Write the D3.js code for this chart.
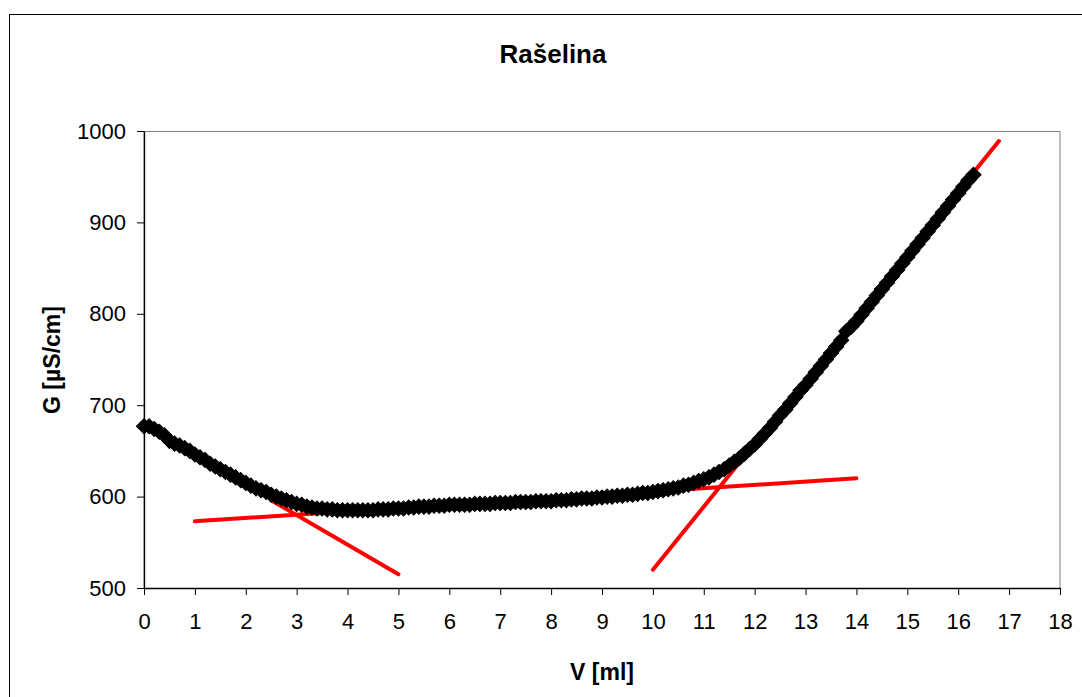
<!DOCTYPE html>
<html>
<head>
<meta charset="utf-8">
<script src="https://cdn.jsdelivr.net/npm/d3@7"></script>
<style>
  body { margin: 0; background: #fff; }
  svg { display: block; font-family: Arial, "Liberation Sans", sans-serif; }
</style>
</head>
<body>
<svg id="chart" width="1082" height="697"></svg>
<script>
// titration data (V in ml, G in uS/cm)
const volume = [
  0.0,0.1,0.2,0.3,0.4,0.5,0.6,0.7,0.8,0.9,
  1.0,1.1,1.2,1.3,1.4,1.5,1.6,1.7,1.8,1.9,
  2.0,2.1,2.2,2.3,2.4,2.5,2.6,2.7,2.8,2.9,
  3.0,3.1,3.2,3.3,3.4,3.5,3.6,3.7,3.8,3.9,
  4.0,4.1,4.2,4.3,4.4,4.5,4.6,4.7,4.8,4.9,
  5.0,5.1,5.2,5.3,5.4,5.5,5.6,5.7,5.8,5.9,
  6.0,6.1,6.2,6.3,6.4,6.5,6.6,6.7,6.8,6.9,
  7.0,7.1,7.2,7.3,7.4,7.5,7.6,7.7,7.8,7.9,
  8.0,8.1,8.2,8.3,8.4,8.5,8.6,8.7,8.8,8.9,
  9.0,9.1,9.2,9.3,9.4,9.5,9.6,9.7,9.8,9.9,
  10.0,10.1,10.2,10.3,10.4,10.5,10.6,10.7,10.8,10.9,
  11.0,11.1,11.2,11.3,11.4,11.5,11.6,11.7,11.8,11.9,
  12.0,12.1,12.2,12.3,12.4,12.5,12.6,12.7,12.8,12.9,
  13.0,13.1,13.2,13.3,13.4,13.5,13.6,13.7,13.8,13.9,
  14.0,14.1,14.2,14.3,14.4,14.5,14.6,14.7,14.8,14.9,
  15.0,15.1,15.2,15.3,15.4,15.5,15.6,15.7,15.8,15.9,
  16.0,16.1,16.2,16.3
];
const conductivity = [
  677,677,674,671,667,661,658,656,653,650,
  646,643,640,636,633,630,627,624,621,618,
  615,612,609,607,605,602,600,598,596,594,
  592,591,589,588,587,587,586,586,585,585,
  585,585,585,585,585,585,586,586,586,587,
  587,587,588,588,589,589,589,590,590,590,
  591,591,591,591,591,592,592,592,592,593,
  593,593,593,594,594,594,594,595,595,595,
  595,596,596,596,597,597,598,598,598,599,
  599,600,600,601,601,602,602,603,604,604,
  605,606,607,608,609,610,612,613,615,617,
  619,621,624,627,630,634,638,642,647,652,
  657,663,669,675,682,689,695,702,709,716,
  722,729,736,743,750,757,764,771,781,786,
  792,799,806,813,820,827,834,841,848,855,
  862,869,876,883,890,897,904,911,918,925,
  932,939,946,952
];

// tangent lines (red)
const tangentX = [[1, 14], [2.5, 5], [10, 16.8]];
const tangentY = [[573, 620], [596, 515], [520, 989]];

const xTicks = d3.range(0, 19, 1);
const yTicks = [500, 600, 700, 800, 900, 1000];

const svg = d3.select("#chart");
const plotLeft = 144, plotRight = 1060, plotTop = 131, plotBottom = 588;

// outer chart border
svg.append("rect")
  .attr("x", 9.5).attr("y", 14.5)
  .attr("width", 1100).attr("height", 700)
  .attr("fill", "none").attr("stroke", "#000").attr("stroke-width", 1);

const x = d3.scaleLinear().domain([0, 18]).range([plotLeft, plotRight]);
const y = d3.scaleLinear().domain([500, 1000]).range([plotBottom, plotTop]);

// plot area border (grey)
svg.append("rect")
  .attr("x", plotLeft).attr("y", plotTop + 0.5)
  .attr("width", plotRight - plotLeft).attr("height", plotBottom - plotTop)
  .attr("fill", "none").attr("stroke", "#808080").attr("stroke-width", 1);

const xAxis = svg.append("g")
  .attr("transform", `translate(0,${plotBottom})`)
  .call(d3.axisBottom(x).tickValues(xTicks).tickFormat(d3.format("d"))
    .tickSizeInner(7).tickSizeOuter(0).tickPadding(18));
const yAxis = svg.append("g")
  .attr("transform", `translate(${plotLeft},0)`)
  .call(d3.axisLeft(y).tickValues(yTicks).tickFormat(d3.format("d"))
    .tickSizeInner(7).tickSizeOuter(0).tickPadding(11));

[xAxis, yAxis].forEach(g => {
  g.select(".domain").attr("stroke", "#000").attr("stroke-width", 1.3);
  g.selectAll(".tick line").attr("stroke", "#000");
  g.selectAll(".tick text")
    .attr("fill", "#000")
    .style("font-size", "22px")
    .style("font-family", "Arial, 'Liberation Sans', sans-serif");
});
xAxis.selectAll(".tick text").attr("dy", "0.72em");

// red tangents first, markers on top
tangentX.forEach((xs, i) => {
  svg.append("line")
    .attr("x1", x(xs[0])).attr("y1", y(tangentY[i][0]))
    .attr("x2", x(xs[1])).attr("y2", y(tangentY[i][1]))
    .attr("stroke", "#ff0000").attr("stroke-width", 4)
    .attr("stroke-linecap", "round");
});

const diamond = d3.symbol().type(d3.symbolSquare).size(115);
svg.append("g")
  .selectAll("path")
  .data(volume.map((v, i) => [v, conductivity[i]]))
  .join("path")
  .attr("d", diamond)
  .attr("transform", d => `translate(${x(d[0])},${y(d[1])}) rotate(45)`)
  .attr("fill", "#000").attr("stroke", "#000").attr("stroke-width", 1);

// titles
svg.append("text")
  .attr("x", 553).attr("y", 63)
  .attr("text-anchor", "middle")
  .style("font-size", "26px").style("font-weight", "bold")
  .text("Rašelina");

svg.append("text")
  .attr("x", 602).attr("y", 680)
  .attr("text-anchor", "middle")
  .style("font-size", "23px").style("font-weight", "bold")
  .text("V [ml]");

svg.append("text")
  .attr("transform", "translate(60,360) rotate(-90)")
  .attr("text-anchor", "middle")
  .style("font-size", "23px").style("font-weight", "bold")
  .text("G [µS/cm]");
</script>
</body>
</html>
